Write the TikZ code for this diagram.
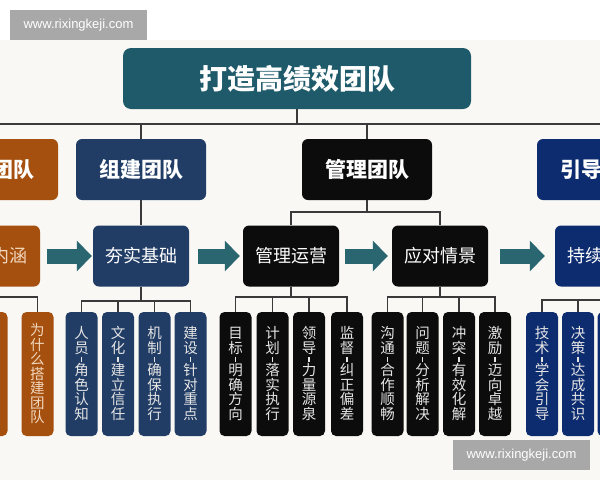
\documentclass[tikz,border=0pt]{standalone}
\usepackage{fontspec}
\newfontfamily\cjk{Noto Sans CJK SC}
\newfontfamily\wmfont{Liberation Sans}
\usetikzlibrary{arrows.meta,calc}
\definecolor{titlec}{HTML}{1F5A6A}
\definecolor{orangec}{HTML}{A5500F}
\definecolor{navyc}{HTML}{213D66}
\definecolor{blackc}{HTML}{0C0C0C}
\definecolor{bluec}{HTML}{0D2C70}
\definecolor{arrowc}{HTML}{2A6670}
\definecolor{linec}{HTML}{3A3A3A}
\definecolor{wmc}{HTML}{A8A8A8}
\definecolor{bgc}{HTML}{F9F8F4}
\definecolor{leaftxt}{HTML}{E4E4E4}
\definecolor{orangetxt}{HTML}{F2D6BC}
\makeatletter
\def\vt@dash{-}
\newcommand\vtchar[1]{%
  \def\vt@tmp{#1}%
  \ifx\vt@tmp\vt@dash
    \kern1.5pt\hbox to 16pt{\hss\vrule height 5pt depth 0pt width 1.3pt\hss}\kern1.5pt
  \else
    \hbox to 16pt{\hss\vrule height 12.3pt depth 2.2pt width 0pt #1\hss}%
  \fi}
\newcommand\vtext[1]{\vbox{\offinterlineskip\@tfor\vt@ch:=#1\do{\expandafter\vtchar\expandafter{\vt@ch}}}}
\makeatother
\begin{document}
\begin{tikzpicture}[x=1pt,y=-1pt,
  box/.style={rounded corners=6pt, inner sep=0pt, text=white},
  lvlone/.style={box, minimum width=130pt, minimum height=61pt, font=\cjk\bfseries\fontsize{21}{21}\selectfont},
  lvltwo/.style={box, minimum width=96pt, minimum height=61pt, font=\cjk\fontsize{18}{18}\selectfont},
  leaf/.style={rounded corners=5pt, inner sep=0pt, minimum width=32pt, minimum height=124pt, text=leaftxt, font=\cjk\fontsize{14.5}{14.5}\selectfont},
  conn/.style={draw=linec, line width=1.3pt},
  bigarrow/.style={draw=arrowc, line width=15pt, -{Triangle[length=15pt 0 0, width=30pt 0 0]}},
  wmbox/.style={fill=wmc, text=white, inner sep=0pt, minimum width=137pt, minimum height=30pt, font=\wmfont\fontsize{13}{13}\selectfont}
]
\useasboundingbox (0,0) rectangle (600,480);
\clip (0,0) rectangle (600,480);
\fill[white] (0,0) rectangle (600,480);
\fill[bgc] (0,40) rectangle (600,480);

% title
\node[box, fill=titlec, rounded corners=8pt, minimum width=348pt, minimum height=61pt, font=\cjk\bfseries\fontsize{28}{28}\selectfont] (title) at (297,78.5) {打造高绩效团队};

\coordinate (h0) at (0,124);
\coordinate (h1) at (600,124);
\coordinate (bgl) at (0,212);
\coordinate (bnh) at (0,297);
\coordinate (bhs) at (0,301);
\coordinate (bgy) at (0,297);
\coordinate (byd) at (0,297);
\coordinate (bcx) at (0,300);

% level one
\node[lvlone, fill=orangec] (rt) at (-7,169.5) {};
\node[anchor=east, inner sep=0pt, text=white, font=\cjk\bfseries\fontsize{21}{21}\selectfont] (rtt) at (35,169.5) {团队};
\node[lvlone, fill=navyc] (zj) at (141,169.5) {组建团队};
\node[lvlone, fill=blackc] (gl) at (367,169.5) {管理团队};
\node[lvlone, fill=bluec] (yd) at (602,169.5) {};
\node[anchor=west, inner sep=0pt, text=white, font=\cjk\bfseries\fontsize{21}{21}\selectfont] (ydt) at (560,169.5) {引导};

% level two
\node[lvltwo, fill=orangec] (nh) at (-8,256) {};
\node[anchor=east, inner sep=0pt, text=orangetxt, font=\cjk\fontsize{18}{18}\selectfont] (nht) at (28,256) {内涵};
\node[lvltwo, fill=navyc] (hs) at (141,256) {夯实基础};
\node[lvltwo, fill=blackc] (gy) at (291,256) {管理运营};
\node[lvltwo, fill=blackc] (yq) at (440,256) {应对情景};
\node[lvltwo, fill=bluec] (cx) at (603,256) {};
\node[anchor=west, inner sep=0pt, text=white, font=\cjk\fontsize{18}{18}\selectfont] (cxt) at (567,256) {持续};

% leaves
\node[leaf, fill=orangec] (o1) at (-8.5,374) {};
\node[leaf, fill=orangec, text=orangetxt] (o2) at (37.5,374) {\vtext{为什么搭建团队}};
\node[leaf, fill=navyc] (n1) at (81.5,374) {\vtext{人员-角色认知}};
\node[leaf, fill=navyc] (n2) at (118,374) {\vtext{文化-建立信任}};
\node[leaf, fill=navyc] (n3) at (154.5,374) {\vtext{机制-确保执行}};
\node[leaf, fill=navyc] (n4) at (190.5,374) {\vtext{建设-针对重点}};
\node[leaf, fill=blackc] (k1) at (235.5,374) {\vtext{目标-明确方向}};
\node[leaf, fill=blackc] (k2) at (272.5,374) {\vtext{计划-落实执行}};
\node[leaf, fill=blackc] (k3) at (309,374) {\vtext{领导-力量源泉}};
\node[leaf, fill=blackc] (k4) at (347,374) {\vtext{监督-纠正偏差}};
\node[leaf, fill=blackc] (m1) at (387.5,374) {\vtext{沟通-合作顺畅}};
\node[leaf, fill=blackc] (m2) at (422.5,374) {\vtext{问题-分析解决}};
\node[leaf, fill=blackc] (m3) at (459,374) {\vtext{冲突-有效化解}};
\node[leaf, fill=blackc] (m4) at (495,374) {\vtext{激励-迈向卓越}};
\node[leaf, fill=bluec] (b1) at (542,374) {\vtext{技术-学会引导}};
\node[leaf, fill=bluec] (b2) at (578,374) {\vtext{决策-达成共识}};
\node[leaf, fill=bluec] (b3) at (613.5,374) {};

% connectors
\draw[conn] (title.south) -- (title.south |- h0);
\draw[conn] (h0) -- (h1);
\draw[conn] (zj.north) -- (zj.north |- h0);
\draw[conn] (gl.north) -- (gl.north |- h0);
\draw[conn] (zj.south) -- (hs.north);
\draw[conn] (gl.south) -- (gl.south |- bgl) -| (gy.north);
\draw[conn] (gl.south) -- (gl.south |- bgl) -| (yq.north);
\foreach \c in {o1,o2} \draw[conn] (nh.south) -- (nh.south |- bnh) -| (\c.north);
\foreach \c in {n1,n2,n3,n4} \draw[conn] (hs.south) -- (hs.south |- bhs) -| (\c.north);
\foreach \c in {k1,k2,k3,k4} \draw[conn] (gy.south) -- (gy.south |- bgy) -| (\c.north);
\foreach \c in {m1,m2,m3,m4} \draw[conn] (yq.south) -- (yq.south |- byd) -| (\c.north);
\foreach \c in {b1,b2,b3} \draw[conn] (cx.south) -- (cx.south |- bcx) -| (\c.north);

% flow arrows
\draw[bigarrow, shorten <=7pt, shorten >=1pt] (nh.east) -- (hs.west);
\draw[bigarrow, shorten <=9pt, shorten >=3pt] (hs.east) -- (gy.west);
\draw[bigarrow, shorten <=6pt, shorten >=4pt] (gy.east) -- (yq.west);
\draw[bigarrow, shorten <=12pt, shorten >=10pt] (yq.east) -- (cx.west);

% watermarks
\node[wmbox] (wm1) at (78.5,25) {www.rixingkeji.com};
\node[wmbox] (wm2) at (521.5,455) {www.rixingkeji.com};
\end{tikzpicture}
\end{document}
